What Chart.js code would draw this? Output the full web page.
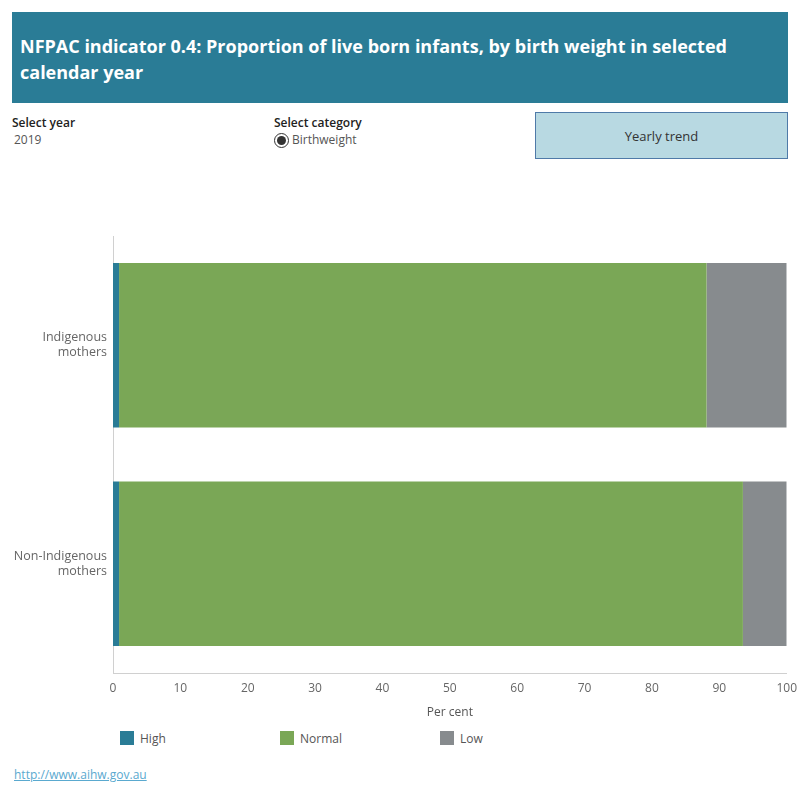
<!DOCTYPE html>
<html>
<head>
<meta charset="utf-8">
<script src="https://cdn.jsdelivr.net/npm/chart.js@4/dist/chart.umd.min.js"></script>
<style>
  body { margin: 0; width: 800px; height: 800px; background: #fff; font-family: "Open Sans", sans-serif; position: relative; overflow: hidden; }
  #cabecalho { position: absolute; left: 12px; top: 12px; width: 776px; height: 91px; background: #2a7c96; color: #fff; box-sizing: border-box; padding: 21px 8px 0 8px; font-weight: bold; font-size: 18px; line-height: 26px; }
  .rotulo { position: absolute; font-size: 12px; color: #222; font-weight: 600; }
  .valor { position: absolute; font-size: 12px; color: #555; }
  #botao { position: absolute; left: 535px; top: 112px; width: 253px; height: 47px; background: #b8d9e2; border: 1px solid #4f7aa8; box-sizing: border-box; text-align: center; line-height: 47px; font-size: 13px; color: #333; }
  #radio { display: inline-block; width: 13px; height: 13px; border: 1.5px solid #333; border-radius: 50%; vertical-align: -4px; margin-right: 3px; position: relative; }
  #radio::after { content: ""; position: absolute; left: 2px; top: 2px; width: 9px; height: 9px; border-radius: 50%; background: #333; }
  #grafico { position: absolute; left: 0; top: 220px; width: 800px; height: 500px; }
  #legenda { position: absolute; top: 731px; left: 0; width: 800px; height: 20px; }
  .item { position: absolute; font-size: 12px; color: #555; line-height: 14px; }
  .item span { display: inline-block; width: 14px; height: 14px; vertical-align: -2px; margin-right: 6px; }
  #link { position: absolute; left: 14px; top: 766px; font-size: 12px; color: #5aa9cf; text-decoration: underline; }
</style>
</head>
<body>
<div id="cabecalho">NFPAC indicator 0.4: Proportion of live born infants, by birth weight in selected calendar year</div>
<div class="rotulo" style="left:12px;top:114px;">Select year</div>
<div class="valor" style="left:14px;top:131px;">2019</div>
<div class="rotulo" style="left:274px;top:114px;">Select category</div>
<div class="valor" style="left:274px;top:131px;"><span id="radio"></span>Birthweight</div>
<div id="botao">Yearly trend</div>
<div id="grafico"><canvas id="canvas"></canvas></div>
<div id="legenda"></div>
<div id="link">http://www.aihw.gov.au</div>
<script>
const categorias = [["Indigenous", "mothers"], ["Non-Indigenous", "mothers"]];
const series = ["High", "Normal", "Low"];
const cores = ["#2a7c96", "#7aa756", "#878b8e"];
const alto = [0.9, 0.9];
const normal = [87.2, 92.6];
const baixo = [11.9, 6.5];
const ticksX = [0, 10, 20, 30, 40, 50, 60, 70, 80, 90, 100];

const valores = [alto, normal, baixo];
const fonte = { family: "'Open Sans', sans-serif", size: 12 };

new Chart(document.getElementById("canvas").getContext("2d"), {
  type: "bar",
  data: {
    labels: categorias,
    datasets: series.map((s, i) => ({
      label: s,
      data: valores[i],
      backgroundColor: cores[i],
      borderWidth: 0,
      barPercentage: 0.752,
      categoryPercentage: 1
    }))
  },
  options: {
    indexAxis: "y",
    responsive: true,
    maintainAspectRatio: false,
    animation: false,
    layout: { padding: { top: 16, right: 10, left: 0, bottom: 0 } },
    plugins: { legend: { display: false }, tooltip: { enabled: false } },
    scales: {
      x: {
        stacked: true,
        min: 0,
        max: 100,
        afterBuildTicks: s => { s.ticks = ticksX.map(v => ({ value: v })); },
        afterFit: s => { s.height = 47; },
        grid: { display: false, drawOnChartArea: false, drawTicks: true, tickLength: 5, color: "#c8c8c8" },
        border: { color: "#d0d0d0", width: 1 },
        ticks: { color: "#666", font: fonte, padding: 3 },
        title: { display: true, text: "Per cent", color: "#555", font: fonte, padding: 0 }
      },
      y: {
        stacked: true,
        afterFit: s => { s.width = 113; },
        grid: { display: false },
        border: { color: "#d0d0d0", width: 1 },
        ticks: { color: "#666", font: { family: "'Open Sans', sans-serif", size: 12.5 }, padding: -2 }
      }
    }
  }
});

const legenda = document.getElementById("legenda");
series.forEach((s, i) => {
  const d = document.createElement("div");
  d.className = "item";
  d.style.left = (120 + i * 160) + "px";
  d.innerHTML = `<span style="background:${cores[i]}"></span>${s}`;
  legenda.appendChild(d);
});
</script>
</body>
</html>
